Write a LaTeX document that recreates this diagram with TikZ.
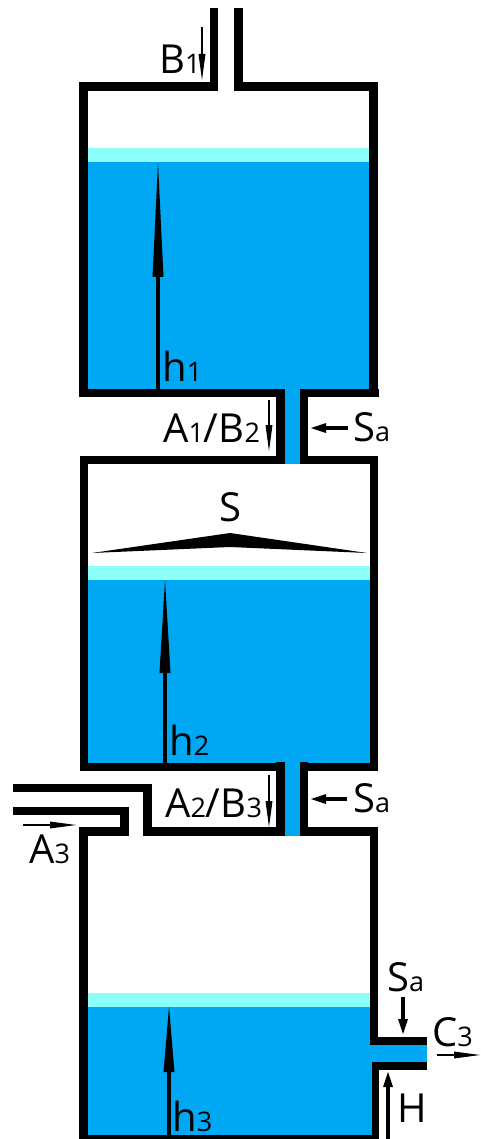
\documentclass[tikz,border=0pt]{standalone}
\usepackage{fontspec}
\setmainfont{Open Sans}
\usetikzlibrary{arrows.meta}
\definecolor{water}{HTML}{00A8F3}
\definecolor{foam}{HTML}{8CFFFB}
\newcommand{\Sm}[1]{{\fontsize{27}{27}\selectfont #1}}
\begin{document}
\begin{tikzpicture}[x=1pt,y=-1pt,
  lab/.style={font=\fontsize{40}{40}\selectfont,anchor=base west,inner sep=0pt},
  thin arrow/.style={line width=2pt,-{Triangle[length=26pt,width=7pt,line width=0pt]}},
  mid arrow/.style={line width=4pt,-{Triangle[length=15pt,width=10pt,line width=0pt]}},
  level arrow/.style={line width=4.5pt,-{Triangle[length=#1,width=11pt,line width=0pt]}}]
\useasboundingbox (0,0) rectangle (480,1139);
% water
\foreach \xa/\ya/\xb/\yb in {87/162/370/390,284/389/300/464,87/580/370/764,285/763/300/836,87/1007/372/1135,370/1045/427/1062}{
  \fill[water] (\xa,\ya) rectangle (\xb,\yb);
}
\foreach \xa/\ya/\xb/\yb in {88/148/369/162,88/566/370/580,88/993/370/1007}{
  \fill[foam] (\xa,\ya) rectangle (\xb,\yb);
}
% walls of the upper tank
\foreach \xa/\ya/\xb/\yb in {210/8/218/91,234/8/243/91,79/82/218/91,234/82/378/91,79/82/88/397,369/82/378/397,79/389/285/397,300/389/379/397}{
  \fill (\xa,\ya) rectangle (\xb,\yb);
}
% walls of the middle tank
\foreach \xa/\ya/\xb/\yb in {276/389/285/464,300/389/308/464,80/456/285/464,300/456/378/464,80/456/88/771,370/456/378/771,80/763/285/771,300/763/378/771}{
  \fill (\xa,\ya) rectangle (\xb,\yb);
}
% walls of the lower tank
\foreach \xa/\ya/\xb/\yb in {276/762/285/836,300/762/308/836,143/827/285/836,300/827/378/836,13/784/152/792,143/784/152/836,13/807/129/815,120/807/129/836,79/827/129/836,79/827/88/1139,370/827/378/1045,370/1037/427/1045,372/1062/427/1070,372/1062/379/1139,79/1135/379/1139}{
  \fill (\xa,\ya) rectangle (\xb,\yb);
}
% slope
\fill (92,553) -- (230,533) -- (367,553) -- (230,547) -- cycle;
% arrows
\draw[level arrow=114pt] (158,389) -- (158,163);
\draw[level arrow=93pt] (165,763) -- (165,580);
\draw[level arrow=65pt] (169,1135) -- (169,1007);
\draw[thin arrow] (202,27) -- (202,80);
\draw[thin arrow] (269,400) -- (269,451);
\draw[thin arrow] (269,775) -- (269,827);
\draw[thin arrow] (23,825) -- (76,825);
\draw[thin arrow] (437,1055) -- (480,1055);
\draw[mid arrow] (348,428) -- (311,428);
\draw[mid arrow] (347,799) -- (311,799);
\draw[mid arrow] (403,997) -- (403,1034);
\draw[mid arrow] (388,1139) -- (388,1072);
% labels
\node[lab] (bin) at (159,74) {B\Sm{1}};
\node[lab] (hone) at (162,381) {h\Sm{1}};
\node[lab] (aone) at (163,442) {A\Sm{1}/B\Sm{2}};
\node[lab] (saone) at (353,441) {S\Sm{a}};
\node[lab,anchor=base] (slope) at (230,521) {S};
\node[lab] (htwo) at (169,755) {h\Sm{2}};
\node[lab] (atwo) at (165,817) {A\Sm{2}/B\Sm{3}};
\node[lab] (satwo) at (353,812) {S\Sm{a}};
\node[lab] (athree) at (29,863) {A\Sm{3}};
\node[lab] (hthree) at (172,1131) {h\Sm{3}};
\node[lab] (sathree) at (387,991) {S\Sm{a}};
\node[lab] (cout) at (432,1046) {C\Sm{3}};
\node[lab] (head) at (397,1122) {H};
\end{tikzpicture}
\end{document}
